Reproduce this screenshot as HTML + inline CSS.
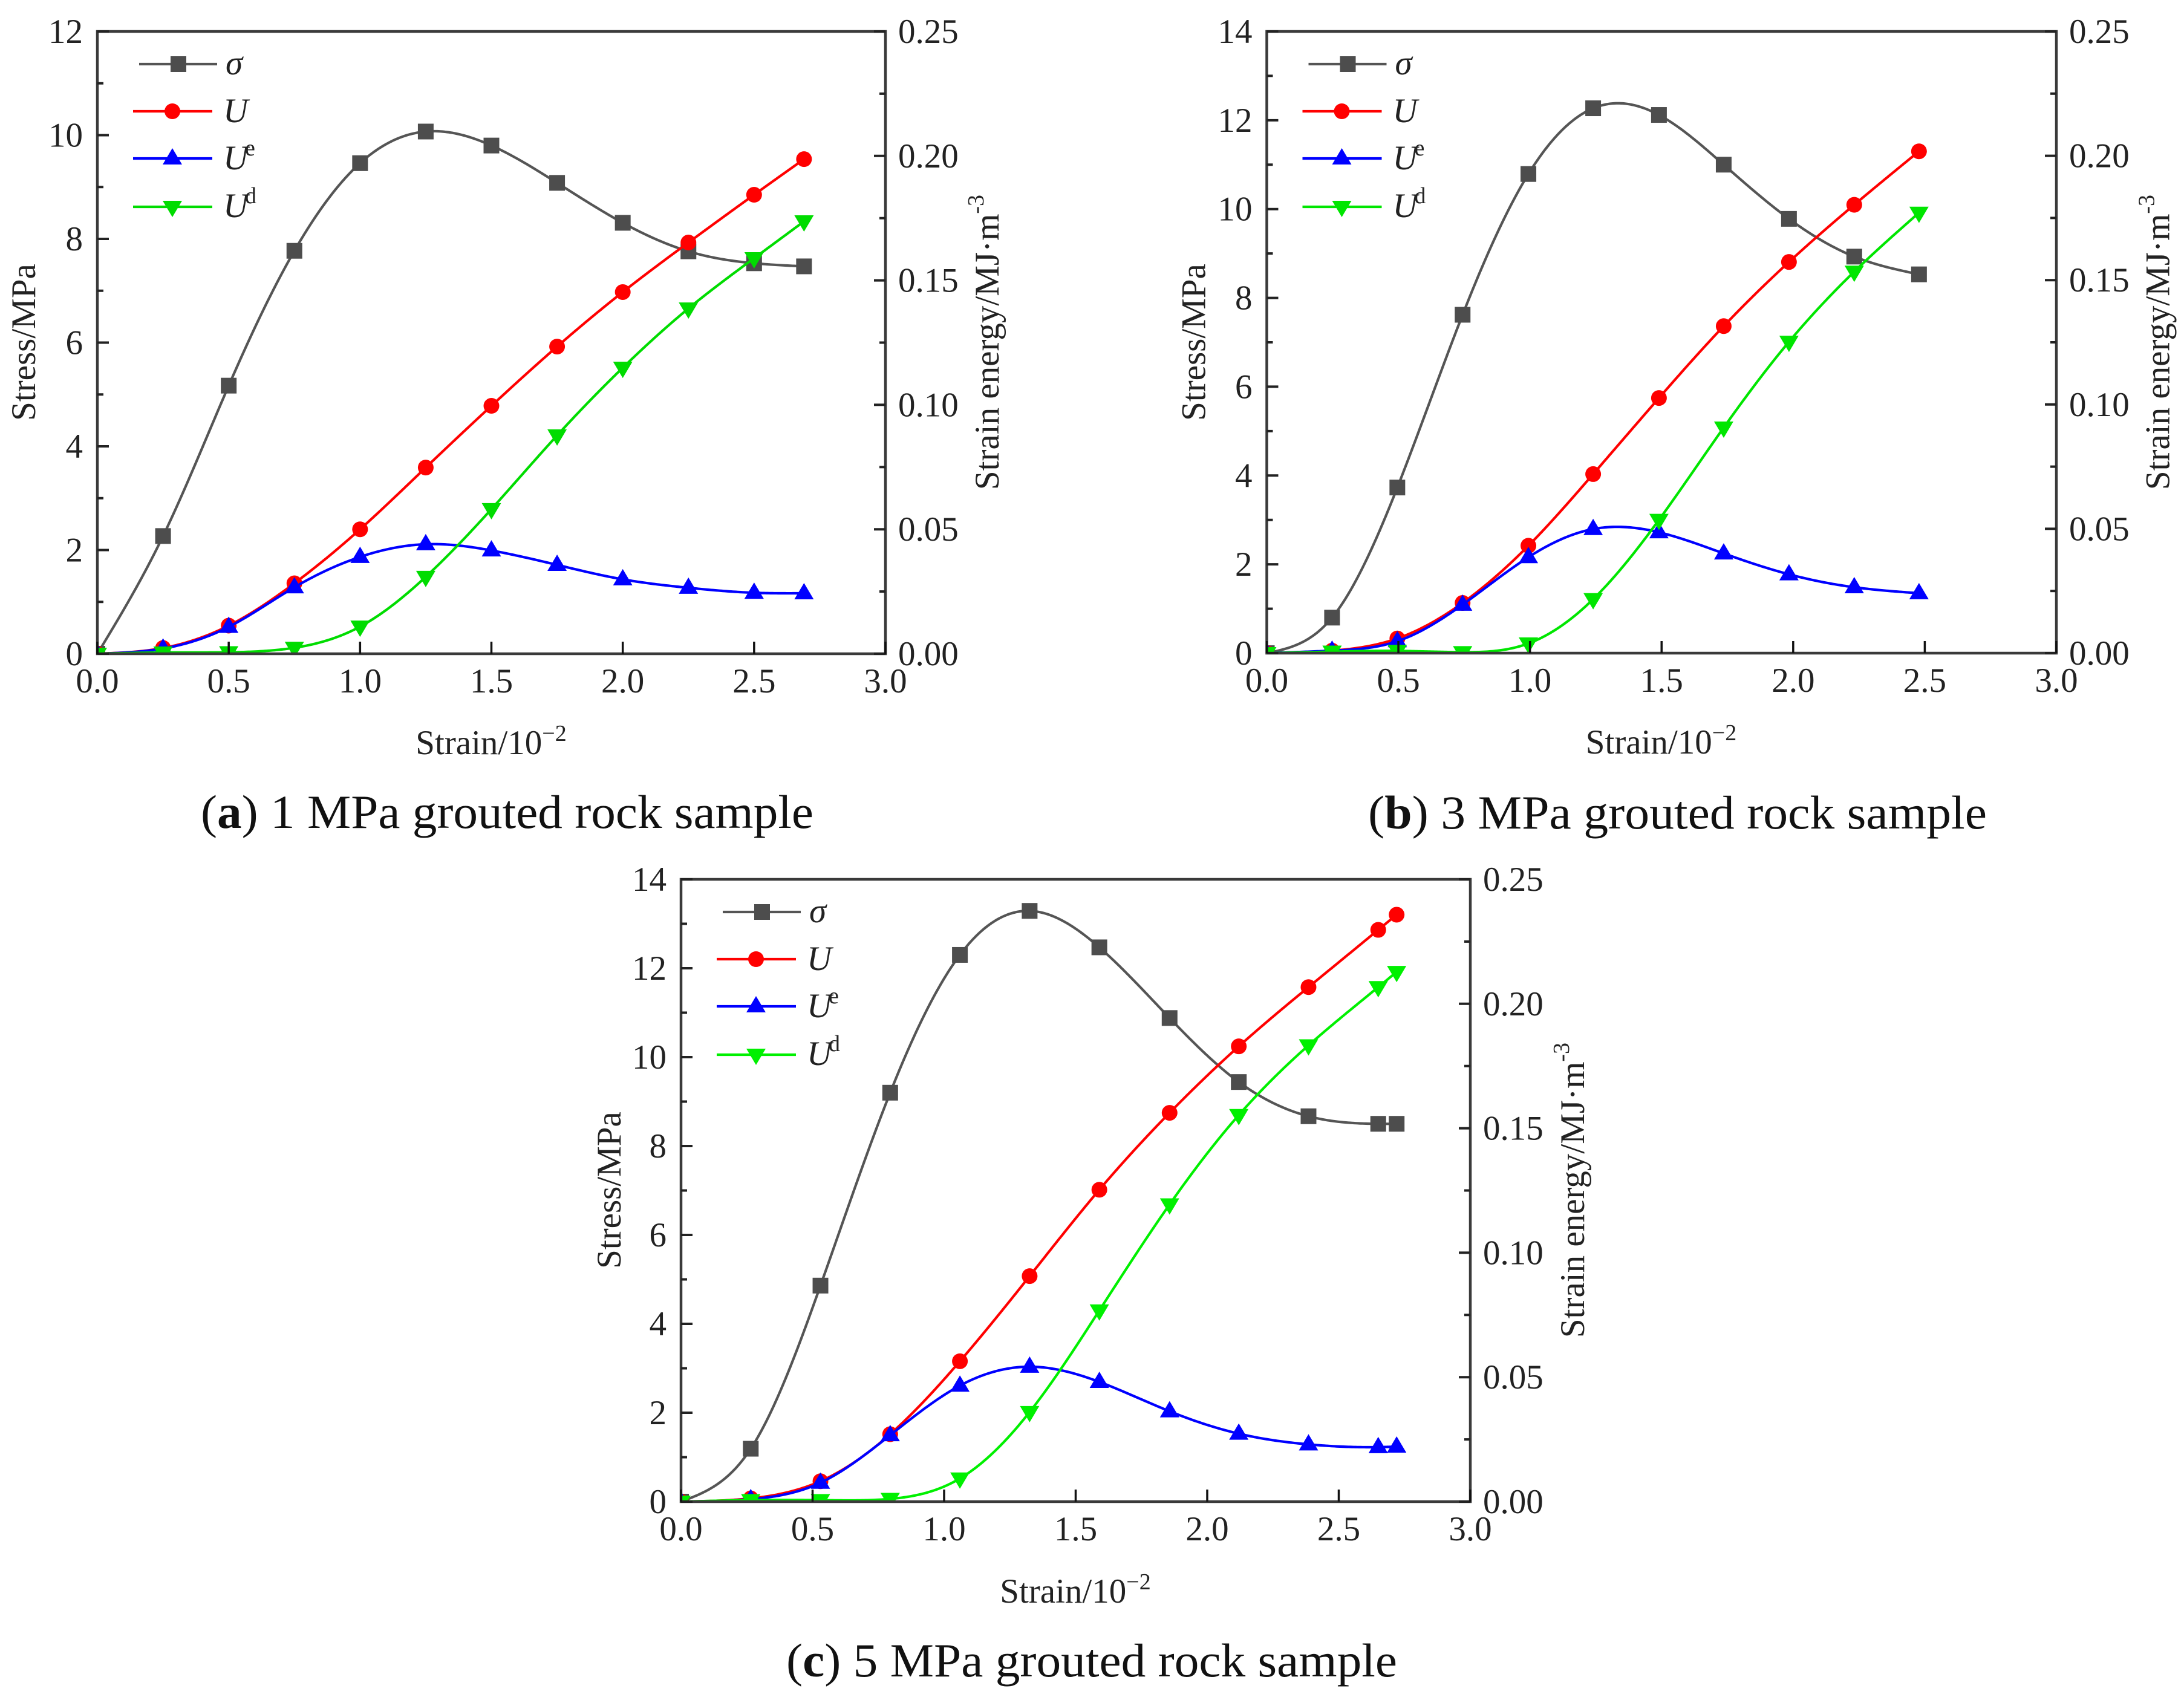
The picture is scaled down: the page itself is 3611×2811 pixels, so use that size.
<!DOCTYPE html>
<html lang="en">
<head>
<meta charset="utf-8">
<title>Stress and strain energy curves of grouted rock samples</title>
<style>
html,body{margin:0;padding:0;background:#fff;}
svg{display:block;}
text{font-family:"Liberation Serif",serif;fill:#222;}
.tick{font-size:57px;}
.title{font-size:57px;}
.sup{font-size:38px;}
.caption{font-size:78px;fill:#111;}
.legend-text{font-size:57px;font-style:italic;}
</style>
</head>
<body>
<svg id="figure" xmlns="http://www.w3.org/2000/svg" width="3611" height="2811" viewBox="0 0 3611 2811">
  <rect x="0" y="0" width="3611" height="2811" fill="#ffffff"/>

  <g id="panel-a" transform="translate(161,52)">
    <text class="title" text-anchor="middle" transform="translate(-103,514) rotate(-90)">Stress/MPa</text>
    <text class="title" text-anchor="middle" x="651" y="1195">Strain/10<tspan class="sup" dy="-22">−2</tspan></text>
    <text class="title" text-anchor="middle" transform="translate(1490,514) rotate(-90)">Strain energy/MJ·m<tspan class="sup" dy="-25">-3</tspan></text>
  </g>
  <text class="caption" x="332" y="1369" textLength="1013" lengthAdjust="spacingAndGlyphs">(<tspan font-weight="bold">a</tspan>) 1 MPa grouted rock sample</text>

  <g id="panel-b" transform="translate(2094.5,52)">
    <text class="title" text-anchor="middle" transform="translate(-102,514) rotate(-90)">Stress/MPa</text>
    <text class="title" text-anchor="middle" x="652" y="1194">Strain/10<tspan class="sup" dy="-22">−2</tspan></text>
    <text class="title" text-anchor="middle" transform="translate(1492,514) rotate(-90)">Strain energy/MJ·m<tspan class="sup" dy="-25">-3</tspan></text>
  </g>
  <text class="caption" x="2262" y="1370" textLength="1023" lengthAdjust="spacingAndGlyphs">(<tspan font-weight="bold">b</tspan>) 3 MPa grouted rock sample</text>

  <g id="panel-c" transform="translate(1126,1454)">
    <text class="title" text-anchor="middle" transform="translate(-100,514) rotate(-90)">Stress/MPa</text>
    <text class="title" text-anchor="middle" x="652" y="1196">Strain/10<tspan class="sup" dy="-22">−2</tspan></text>
    <text class="title" text-anchor="middle" transform="translate(1493,514) rotate(-90)">Strain energy/MJ·m<tspan class="sup" dy="-25">-3</tspan></text>
  </g>
  <text class="caption" x="1300" y="2772" textLength="1010" lengthAdjust="spacingAndGlyphs">(<tspan font-weight="bold">c</tspan>) 5 MPa grouted rock sample</text>
</svg>

<script>
// Tick labels
const xTickLabels = ['0.0', '0.5', '1.0', '1.5', '2.0', '2.5', '3.0'];
const rightTickLabels = ['0.00', '0.05', '0.10', '0.15', '0.20', '0.25'];
const leftTickLabelsA = ['0', '2', '4', '6', '8', '10', '12'];
const leftTickLabelsB = ['0', '2', '4', '6', '8', '10', '12', '14'];
const leftTickLabelsC = ['0', '2', '4', '6', '8', '10', '12', '14'];

// Panel (a) 1 MPa
const strainA = [0, 0.25, 0.5, 0.75, 1.0, 1.25, 1.5, 1.75, 2.0, 2.25, 2.5, 2.69];
const sigmaA = [0, 2.27, 5.17, 7.77, 9.46, 10.07, 9.80, 9.08, 8.31, 7.76, 7.53, 7.47];
const totalA = [0, 0.0023, 0.0113, 0.0283, 0.0500, 0.0748, 0.0996, 0.1234, 0.1453, 0.1652, 0.1844, 0.1987];
const elasticA = [0, 0.0021, 0.0108, 0.0267, 0.0389, 0.0440, 0.0415, 0.0357, 0.0299, 0.0265, 0.0245, 0.0243];
const dissipatedA = [0, 0.0005, 0.0006, 0.0024, 0.0109, 0.0309, 0.0581, 0.0877, 0.1149, 0.1387, 0.1589, 0.1737];

// Panel (b) 3 MPa
const strainB = [0, 0.248, 0.496, 0.744, 0.994, 1.24, 1.49, 1.736, 1.984, 2.232, 2.478];
const sigmaB = [0, 0.80, 3.73, 7.62, 10.79, 12.27, 12.12, 11.0, 9.78, 8.93, 8.53];
const totalB = [0, 0.0010, 0.0059, 0.0202, 0.0432, 0.0720, 0.1026, 0.1315, 0.1573, 0.1803, 0.2018];
const elasticB = [0, 0.0010, 0.0048, 0.0195, 0.0386, 0.0499, 0.0486, 0.0401, 0.0317, 0.0265, 0.0241];
const dissipatedB = [0, 0.0006, 0.0009, 0.0004, 0.0039, 0.0217, 0.0536, 0.0907, 0.1252, 0.1534, 0.1771];

// Panel (c) 5 MPa
const strainC = [0, 0.265, 0.53, 0.795, 1.06, 1.325, 1.59, 1.857, 2.12, 2.385, 2.65, 2.72];
const sigmaC = [0, 1.19, 4.86, 9.20, 12.30, 13.29, 12.47, 10.88, 9.44, 8.67, 8.50, 8.50];
const totalC = [0, 0.0013, 0.0082, 0.0271, 0.0564, 0.0906, 0.1253, 0.1562, 0.1829, 0.2067, 0.2297, 0.2358];
const elasticC = [0, 0.0010, 0.0076, 0.0267, 0.0466, 0.0542, 0.0481, 0.0363, 0.0273, 0.0230, 0.0219, 0.0221];
const dissipatedC = [0, 0.0006, 0.0006, 0.0011, 0.0093, 0.0360, 0.0768, 0.1194, 0.1553, 0.1833, 0.2067, 0.2128];

const SVGNS = 'http://www.w3.org/2000/svg';

function mk(tag, attrs, parent) {
  const node = document.createElementNS(SVGNS, tag);
  for (const k in attrs) node.setAttribute(k, attrs[k]);
  parent.appendChild(node);
  return node;
}

// Natural cubic spline through the data, sampled to a path string.
function splinePath(xs, ys, sx, sy) {
  const n = xs.length;
  const m = new Array(n).fill(0);
  const u = new Array(n).fill(0);
  for (let i = 1; i < n - 1; i++) {
    const sig = (xs[i] - xs[i - 1]) / (xs[i + 1] - xs[i - 1]);
    const p = sig * m[i - 1] + 2;
    m[i] = (sig - 1) / p;
    const d = (ys[i + 1] - ys[i]) / (xs[i + 1] - xs[i]) - (ys[i] - ys[i - 1]) / (xs[i] - xs[i - 1]);
    u[i] = (6 * d / (xs[i + 1] - xs[i - 1]) - sig * u[i - 1]) / p;
  }
  for (let i = n - 2; i >= 0; i--) m[i] = m[i] * m[i + 1] + u[i];
  let d = '';
  for (let i = 0; i < n - 1; i++) {
    const h = xs[i + 1] - xs[i];
    const steps = 40;
    for (let s = (i === 0 ? 0 : 1); s <= steps; s++) {
      const t = s / steps;
      const a = 1 - t;
      const y = a * ys[i] + t * ys[i + 1] + ((a * a * a - a) * m[i] + (t * t * t - t) * m[i + 1]) * h * h / 6;
      const x = xs[i] + t * h;
      d += (d ? 'L' : 'M') + sx(x).toFixed(2) + ' ' + sy(y).toFixed(2);
    }
  }
  return d;
}

function drawMarker(kind, x, y, color, parent) {
  if (kind === 'square') return mk('rect', { x: x - 13, y: y - 13, width: 26, height: 26, fill: color }, parent);
  if (kind === 'circle') return mk('circle', { cx: x, cy: y, r: 13, fill: color }, parent);
  if (kind === 'up') return mk('polygon', { points: `${x},${y - 17} ${x + 16},${y + 10} ${x - 16},${y + 10}`, fill: color }, parent);
  return mk('polygon', { points: `${x - 16},${y - 10} ${x + 16},${y - 10} ${x},${y + 17}`, fill: color }, parent);
}

function drawPanel(cfg) {
  const g = document.getElementById(cfg.id);
  const W = cfg.width, H = cfg.height;
  const sx = v => v / 3 * W;
  const leftMax = Number(cfg.leftTicks[cfg.leftTicks.length - 1]);
  const syL = v => H - v / leftMax * H;
  const syR = v => H - v / 0.25 * H;

  const clip = mk('clipPath', { id: cfg.id + '-clip' }, g);
  mk('rect', { x: 0, y: 0, width: W, height: H }, clip);

  const series = [
    { name: 'stress', values: cfg.sigma, sy: syL, color: '#555555', mark: '#4d4d4d', kind: 'square' },
    { name: 'total-energy', values: cfg.total, sy: syR, color: '#ff0000', mark: '#ff0000', kind: 'circle' },
    { name: 'elastic-energy', values: cfg.elastic, sy: syR, color: '#0000ff', mark: '#0000ff', kind: 'up' },
    { name: 'dissipated-energy', values: cfg.dissipated, sy: syR, color: cfg.green, mark: cfg.green, kind: 'down' }
  ];

  const plot = mk('g', { 'clip-path': `url(#${cfg.id}-clip)` }, g);
  
  

  series.forEach(s => {
    const line = mk('path', { d: splinePath(cfg.strain, s.values, sx, s.sy), fill: 'none', stroke: s.color, 'stroke-width': 4.2 }, plot);
    
    
    s.values.forEach((v, i) => {
      const m = drawMarker(s.kind, sx(cfg.strain[i]), s.sy(v), s.mark, plot);
      
      
    });
  });

  // frame
  const frame = mk('rect', { x: 0, y: 0, width: W, height: H, fill: 'none', stroke: '#3a3a3a', 'stroke-width': 4.5 }, g);
  
  

  // left axis
  cfg.leftTicks.forEach((lab, i) => {
    const v = Number(lab);
    const y = syL(v);
    const t = mk('line', { x1: 0, x2: 19, y1: y, y2: y, stroke: '#222', 'stroke-width': 4 }, g);
    
    
    const txt = mk('text', { x: -24, y: y + 19, 'text-anchor': 'end', class: 'tick' }, g);
    txt.textContent = lab;
    
    
    if (i < cfg.leftTicks.length - 1) {
      const ym = syL((v + Number(cfg.leftTicks[i + 1])) / 2);
      const mt = mk('line', { x1: 0, x2: 10, y1: ym, y2: ym, stroke: '#222', 'stroke-width': 4 }, g);
      
      
    }
  });

  // right axis
  rightTickLabels.forEach((lab, i) => {
    const v = Number(lab);
    const y = syR(v);
    const t = mk('line', { x1: W - 19, x2: W, y1: y, y2: y, stroke: '#222', 'stroke-width': 4 }, g);
    
    
    const txt = mk('text', { x: W + 21, y: y + 19, class: 'tick' }, g);
    txt.textContent = lab;
    
    
    if (i < rightTickLabels.length - 1) {
      const ym = syR((v + Number(rightTickLabels[i + 1])) / 2);
      const mt = mk('line', { x1: W - 10, x2: W, y1: ym, y2: ym, stroke: '#222', 'stroke-width': 4 }, g);
      
      
    }
  });

  // bottom axis
  xTickLabels.forEach(lab => {
    const x = sx(Number(lab));
    const t = mk('line', { x1: x, x2: x, y1: H - 20, y2: H, stroke: '#111', 'stroke-width': 3.5 }, g);
    
    
    const txt = mk('text', { x: x, y: H + 64, 'text-anchor': 'middle', class: 'tick' }, g);
    txt.textContent = lab;
    
    
  });

  // legend
  const legendBase = [
    { label: 'σ', sup: '', y: 54, x1: 69, x2: 198, mx: 134, tx: 212, ty: 71 },
    { label: 'U', sup: '', y: 132, x1: 59, x2: 190, mx: 124, tx: 208, ty: 150 },
    { label: 'U', sup: 'e', y: 210, x1: 59, x2: 190, mx: 124, tx: 208, ty: 228 },
    { label: 'U', sup: 'd', y: 290, x1: 59, x2: 190, mx: 124, tx: 208, ty: 307 }
  ];
  legendBase.forEach((e, i) => {
    const s = series[i];
    const row = mk('g', {}, g);
    
    
    const ln = mk('line', { x1: e.x1, x2: e.x2, y1: e.y, y2: e.y, stroke: s.color, 'stroke-width': 4.2 }, row);
    
    
    const mm = drawMarker(s.kind, e.mx, e.y, s.mark, row);
    
    
    const tt = mk('text', { x: e.tx, y: e.ty, class: 'legend-text' }, row);
    tt.textContent = e.label;
    
    
    if (e.sup) {
      const st = mk('text', { x: e.tx + 36, y: e.ty - 23, class: 'sup' }, row);
      st.textContent = e.sup;
      
      
    }
  });
}

drawPanel({ id: 'panel-a', width: 1303, height: 1029, leftTicks: leftTickLabelsA, strain: strainA, sigma: sigmaA, total: totalA, elastic: elasticA, dissipated: dissipatedA, green: '#00dc00' });
drawPanel({ id: 'panel-b', width: 1305.5, height: 1028, leftTicks: leftTickLabelsB, strain: strainB, sigma: sigmaB, total: totalB, elastic: elasticB, dissipated: dissipatedB, green: '#00e600' });
drawPanel({ id: 'panel-c', width: 1305, height: 1029, leftTicks: leftTickLabelsC, strain: strainC, sigma: sigmaC, total: totalC, elastic: elasticC, dissipated: dissipatedC, green: '#00f000' });
</script>
</body>
</html>
